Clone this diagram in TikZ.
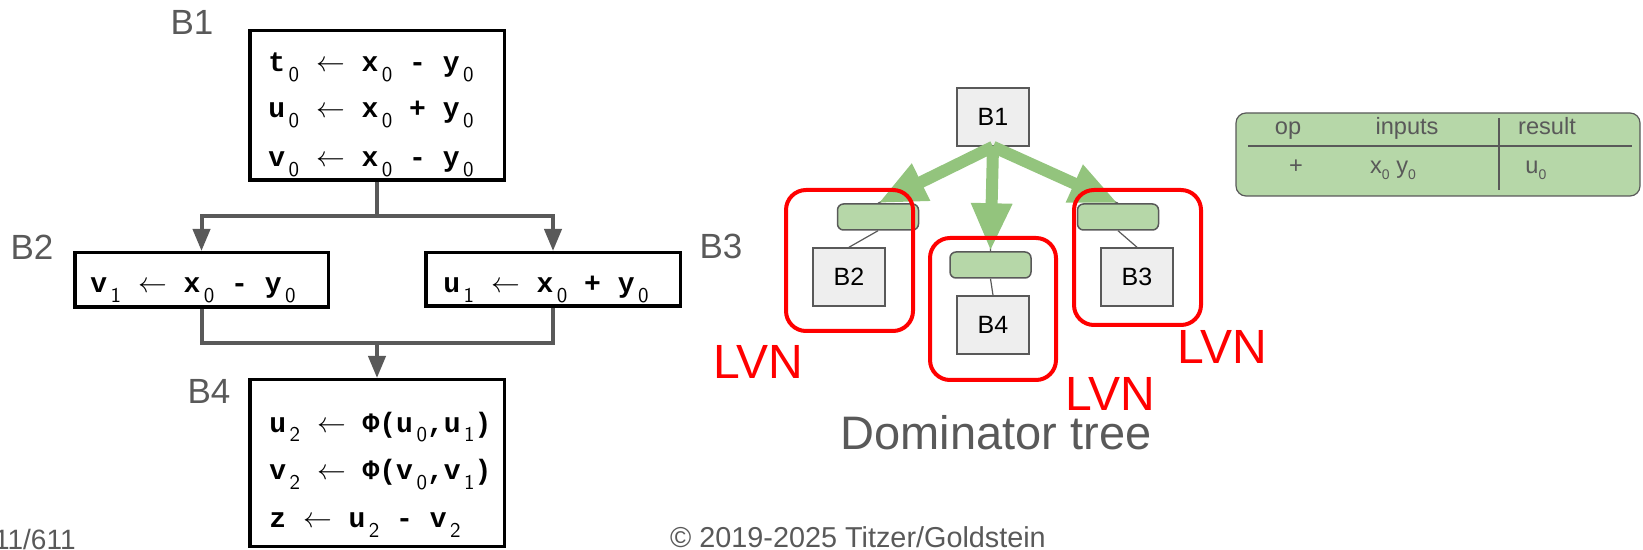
\documentclass[tikz,border=0pt]{standalone}
\usepackage{fontspec}
\setmainfont{Liberation Sans}
\setmonofont{Liberation Mono}
\usetikzlibrary{positioning, arrows.meta}
\definecolor{labelgray}{HTML}{595959}
\definecolor{nodegray}{HTML}{EEEEEE}
\definecolor{lvngreen}{HTML}{B6D7A8}
\definecolor{arrowgreen}{HTML}{93C47D}
\definecolor{lvnred}{HTML}{FF0000}
\newcommand{\lo}[1]{\raisebox{-5pt}{\fontsize{10.5}{10.5}\selectfont\sffamily\mdseries\,#1}}
\newcommand{\tlo}[1]{\raisebox{-3pt}{\fontsize{7}{7}\selectfont #1}}

\begin{document}
\begin{tikzpicture}[x=0.5pt, y=-0.5pt,
  blk/.style={draw=black, line width=1.75pt, inner sep=0pt},
  code/.style={anchor=base west, inner sep=0pt, font=\fontsize{14}{14}\selectfont\ttfamily\bfseries},
  lbl/.style={anchor=base, inner sep=0pt, text=labelgray, font=\fontsize{17.5}{17.5}\selectfont},
  flowline/.style={draw=labelgray, line width=2pt},
  flow/.style={flowline, -{Triangle[width=8.5pt,length=11pt]}},
  dom/.style={draw=labelgray, fill=nodegray, line width=0.75pt, minimum width=36pt,
              minimum height=29pt, inner sep=0pt, font=\fontsize{12.5}{12.5}\selectfont},
  bar/.style={draw=labelgray, fill=lvngreen, line width=0.75pt, rounded corners=3pt,
              minimum width=40.5pt, minimum height=13pt, inner sep=0pt},
  tree/.style={draw=labelgray, line width=0.6pt},
  push/.style={draw=arrowgreen, line width=6pt, -{Triangle[width=19pt,length=24pt]}},
  lvn/.style={draw=lvnred, line width=2pt, rounded corners=10pt},
  lvntext/.style={anchor=base, inner sep=0pt, text=lvnred, font=\fontsize{24}{24}\selectfont},
  tab/.style={anchor=base, inner sep=0pt, text=labelgray, font=\fontsize{11.8}{11.8}\selectfont}
]
  \useasboundingbox (0,0) rectangle (1643,550);

  % CFG blocks
  \node[blk, minimum width=127.25pt, minimum height=74.75pt] (b1) at (377,105.5) {};
  \node[blk, minimum width=126.75pt, minimum height=27.25pt] (b2) at (201.5,280) {};
  \node[blk, minimum width=127.25pt, minimum height=26.75pt] (b3) at (553,279.5) {};
  \node[blk, minimum width=127.25pt, minimum height=83.25pt] (b4) at (377,463) {};

  \node[lbl] (b1name) at (192,35) {B1};
  \node[lbl] (b2name) at (32,260) {B2};
  \node[lbl] (b3name) at (721,259) {B3};
  \node[lbl] (b4name) at (209,403) {B4};

  \node[code] (b1l1) at (268,72) {t\lo{0} $\leftarrow$ x\lo{0} - y\lo{0}};
  \node[code] (b1l2) at (268,118) {u\lo{0} $\leftarrow$ x\lo{0} + y\lo{0}};
  \node[code] (b1l3) at (268,167) {v\lo{0} $\leftarrow$ x\lo{0} - y\lo{0}};
  \node[code] (b2l1) at (90,293) {v\lo{1} $\leftarrow$ x\lo{0} - y\lo{0}};
  \node[code] (b3l1) at (443,293) {u\lo{1} $\leftarrow$ x\lo{0} + y\lo{0}};
  \node[code] (b4l1) at (269,432) {u\lo{2} $\leftarrow$ Φ(u\lo{0},u\lo{1})};
  \node[code] (b4l2) at (269,480) {v\lo{2} $\leftarrow$ Φ(v\lo{0},v\lo{1})};
  \node[code] (b4l3) at (269,527) {z $\leftarrow$ u\lo{2} - v\lo{2}};

  \coordinate (split) at (377,216);
  \coordinate (join) at (377,343);
  \draw[flowline] (b1.south) -- (split);
  \draw[flow] (split) -| (b2.north);
  \draw[flow] (split) -| (b3.north);
  \draw[flowline] (b2.south) |- (join) -| (b3.south);
  \draw[flow] (join) -- (b4.north);

  % dominator tree
  \node[dom] (d1) at (993,117) {B1};
  \node[dom] (d2) at (849,277) {B2};
  \node[dom] (d3) at (1137,277) {B3};
  \node[dom] (d4) at (993,325) {B4};
  \node[bar] (t2) at (878,217) {};
  \node[bar] (t4) at (990.5,265) {};
  \node[bar] (t3) at (1118,217) {};

  \draw[tree] (d1.south) -- (t2.north);
  \draw[tree] (d1.south) -- (t4.north);
  \draw[tree] (d1.south) -- (t3.north);
  \draw[tree] (t2.south) -- (d2.north);
  \draw[tree] (t4.south) -- (d4.north);
  \draw[tree] (t3.south) -- (d3.north);

  \draw[push] (d1.south) -- (t2.north);
  \draw[push] (d1.south) -- (t4.north);
  \draw[push] (d1.south) -- (t3.north);

  \draw[lvn] (786,190) rectangle (913,331);
  \draw[lvn] (930,238) rectangle (1056,380);
  \draw[lvn] (1074,190) rectangle (1201,325);

  \node[lvntext] (lvn2) at (758,379) {LVN};
  \node[lvntext] (lvn4) at (1110,410) {LVN};
  \node[lvntext] (lvn3) at (1222,364) {LVN};

  \node[anchor=base, inner sep=0pt, text=labelgray, font=\fontsize{23.5}{23.5}\selectfont]
    (domtitle) at (996,450) {Dominator tree};

  % value table
  \node[draw=labelgray, fill=lvngreen, line width=0.6pt, rounded corners=5pt,
        minimum width=202pt, minimum height=41.5pt, inner sep=0pt] (vtab) at (1438,154.5) {};
  \draw[labelgray, line width=0.8pt] (1248,146) -- (1632,146);
  \draw[labelgray, line width=0.8pt] (1499,118) -- (1499,190);
  \node[tab] (hop) at (1288,135) {op};
  \node[tab] (hin) at (1407,135) {inputs};
  \node[tab] (hres) at (1547,135) {result};
  \node[tab] (vop) at (1296,174) {+};
  \node[tab] (vin) at (1393,174) {x\tlo{0} y\tlo{0}};
  \node[tab, anchor=base west] (vres) at (1525,174) {u\tlo{0}};

  % footer
  \node[anchor=base east, inner sep=0pt, text=labelgray, font=\fontsize{14}{14}\selectfont]
    (pageno) at (76,549) {11/611};
  \node[anchor=base, inner sep=0pt, text=labelgray, font=\fontsize{14.4}{14.4}\selectfont]
    (copy) at (858,547) {© 2019-2025 Titzer/Goldstein};
\end{tikzpicture}
\end{document}
